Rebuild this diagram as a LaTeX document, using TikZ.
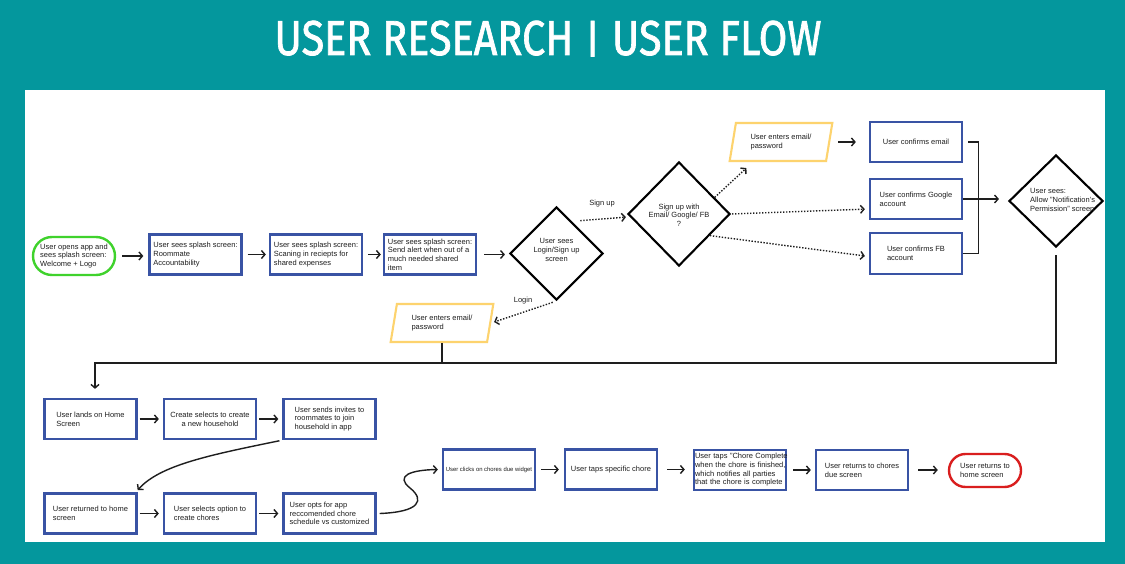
\documentclass[tikz,border=0pt]{standalone}
\usepackage{fontspec}
\usepackage{graphicx}
\setmainfont{Liberation Sans}
\newfontfamily\titlefont{Fira Sans}[FakeBold=1.6]
\usetikzlibrary{shapes.geometric,shapes.misc,arrows.meta,calc}
\definecolor{tealbg}{HTML}{04979D}
\definecolor{boxblue}{HTML}{3953A4}
\definecolor{startgreen}{HTML}{3FD22C}
\definecolor{parayellow}{HTML}{FDD36E}
\definecolor{endred}{HTML}{D91E1E}
\definecolor{ink}{HTML}{1E1E1E}
\tikzset{
  txt/.style={font=\fontsize{7.5}{8.7}\selectfont, text=ink, align=left, inner sep=0pt},
  box/.style={draw=boxblue, line width=2.3pt, minimum width=92pt, minimum height=40pt,
    inner sep=2pt, align=left, font=\fontsize{7.5}{8.7}\selectfont, text=ink},
  dia/.style={diamond, draw=black, line width=2.1pt, inner sep=0pt},
  para/.style={trapezium, trapezium left angle=75, trapezium right angle=105,
    trapezium stretches=true, draw=parayellow, line width=2.1pt,
    minimum width=103pt, minimum height=38pt, inner sep=0pt, align=left,
    font=\fontsize{7.5}{8.7}\selectfont, text=ink},
  term/.style={rounded rectangle, line width=2.4pt, inner sep=2pt, align=left,
    font=\fontsize{7.5}{8.7}\selectfont, text=ink},
  arr/.style={draw=ink, line width=1.4pt, -{Straight Barb[length=3.5pt,width=8pt]}},
  dots/.style={arr, dash pattern=on 1.4pt off 1.6pt},
  link/.style={draw=ink, line width=1.3pt},
}
\begin{document}
\begin{tikzpicture}[x=1pt,y=-1pt]
\useasboundingbox (0,0) rectangle (1125,564);
\fill[tealbg] (0,0) rectangle (1125,564);
\fill[white] (25,90) rectangle (1105,542);

% title
\node[text=white, anchor=base, inner sep=0pt] (title) at (548,55)
  {\titlefont\fontsize{49}{49}\selectfont\resizebox{547pt}{\height}{USER RESEARCH \raisebox{2.5pt}{\scalebox{1}[0.8]{|}} USER FLOW}};

% row 1
\node[term, draw=startgreen, minimum width=86pt, minimum height=38pt] (s) at (74,256)
  {User opens app and\\sees splash screen:\\Welcome + Logo};
\node[box] (b2) at (195.5,254.5) {User sees splash screen:\\Roommate\\Accountability};
\node[box] (b3) at (316,254.5) {User sees splash screen:\\Scaning in reciepts for\\shared expenses};
\node[box] (b4) at (430,254.5) {User sees splash screen:\\Send alert when out of a\\much needed shared\\item};

\node[dia, minimum width=93pt, minimum height=93pt] (d1) at (556.5,253.5) {};
\node[txt, align=center] (d1t) at (556.5,250) {User sees\\Login/Sign up\\screen};
\node[dia, minimum width=102pt, minimum height=104pt] (d2) at (679,214) {};
\node[txt, align=center] (d2t) at (679,215) {Sign up with\\Email/ Google/ FB\\?};

\node[para] (p1) at (781,142) {User enters email/\\password};
\node[para] (p2) at (442,323) {User enters email/\\password};

\node[box] (em) at (916,142) {User confirms email};
\node[box] (g) at (916,199) {User confirms Google\\account};
\node[box, minimum height=41pt] (fb) at (916,253.5) {User confirms FB\\account};

\node[dia, minimum width=94pt, minimum height=92pt] (d3) at (1056,201) {};
\begin{scope}
  \clip (1000,150) rectangle (1098,260);
  \node[txt, anchor=west] (d3t) at (1030,200) {User sees:\\Allow "Notification's\\Permission" screen};
\end{scope}

\node[txt] (lsu) at (602,204) {Sign up};
\node[txt] (llg) at (523,301) {Login};

% row 2
\node[box] (home) at (90.5,419) {User lands on Home\\Screen};
\node[box, align=center] (hh) at (210,419) {Create selects to create\\a new household};
\node[box] (inv) at (329.5,419) {User sends invites to\\roommates to join\\household in app};

% row 3
\node[box] (ret) at (90.5,513.5) {User returned to home\\screen};
\node[box] (cho) at (210,513.5) {User selects option to\\create chores};
\node[box] (opt) at (329.5,513.5) {User opts for app\\reccomended chore\\schedule vs customized};

% row 4
\node[box, font=\fontsize{5.9}{7}\selectfont] (wid) at (489,469.5) {User clicks on chores due widget};
\node[box] (chore) at (611,469.5) {User taps specific chore};
\node[box, text width=90pt, inner xsep=1pt] (cc) at (740,470)
  {\mbox{User taps "Chore Complete}\\\mbox{when the chore is finished,}\\\mbox{which notifies all parties}\\\mbox{that the chore is complete}};
\node[box] (rc) at (862,470) {User returns to chores\\due screen};
\node[term, draw=endred, minimum width=76pt, minimum height=33pt] (fin) at (985,470.5)
  {User returns to\\home screen};

% connectors row 1
\draw[arr, shorten <=6pt, shorten >=5pt] (s.east) -- (s.east -| b2.west);
\draw[arr, shorten <=5pt, shorten >=3pt] (b2.east) -- (b2.east -| b3.west);
\draw[arr, shorten <=5pt, shorten >=2pt] (b3.east) -- (b3.east -| b4.west);
\draw[arr, shorten <=7pt, shorten >=4pt] (b4.east) -- (b4.east -| d1.west);

\draw[dots, shorten >=1pt] ([yshift=9pt]d1.north east) -- ([yshift=-3pt]d2.west);
\draw[dots, shorten <=4pt, shorten >=3pt] (d1.south) -- (p2.east);
\draw[dots] (d2.25) -- ([xshift=18pt,yshift=-6pt]p1.bottom left corner);
\draw[dots, shorten <=1pt, shorten >=4pt] (d2.east) -- ([yshift=-10pt]g.west);
\draw[dots, shorten >=4pt] (d2.-35) -- ([yshift=-3pt]fb.west);

\draw[arr, shorten <=8pt, shorten >=13pt] (p1.east) -- (p1.east -| em.west);
\draw[link] ([xshift=5pt]em.east) -| ([xshift=15pt]fb.east) -- (fb.east);
\draw[arr, shorten >=9pt] (g.east) -- (g.east -| d3.west);

% return line to home
\coordinate (jn) at (437,363);
\coordinate (hn) at ([xshift=4.5pt]home.north);
\coordinate (d3b) at ([yshift=-7pt]d3.south);
\draw[arr, shorten >=9pt] (d3b) -- (d3b |- jn) -| (hn);
\draw[link] (p2.south) -- (p2.south |- jn);

% row 2 / 3 connectors
\draw[arr, shorten <=2pt, shorten >=4pt] (home.east) -- (home.east -| hh.west);
\draw[arr, shorten <=2pt, shorten >=4pt] (hh.east) -- (hh.east -| inv.west);
\draw[arr, shorten <=3pt, shorten >=3pt] (inv.south west) .. controls (210,455) and (160,465) .. ([xshift=-2pt]ret.north east);
\draw[arr, shorten <=2pt, shorten >=4pt] (ret.east) -- (ret.east -| cho.west);
\draw[arr, shorten <=2pt, shorten >=4pt] (cho.east) -- (cho.east -| opt.west);
\draw[arr] ([xshift=3pt]opt.east) .. controls (420,512) and (425,500) .. (410,488)
  .. controls (395,476) and (410,470) .. ([xshift=-4pt]wid.west);

% row 4 connectors
\draw[arr, shorten <=5pt, shorten >=5pt] (wid.east) -- (wid.east -| chore.west);
\draw[arr, shorten <=9pt, shorten >=8pt] (chore.east) -- (chore.east -| cc.west);
\draw[arr, shorten <=6pt, shorten >=4pt] (cc.east) -- (cc.east -| rc.west);
\draw[arr, shorten <=9pt, shorten >=10pt] (rc.east) -- (rc.east -| fin.west);
\end{tikzpicture}
\end{document}
